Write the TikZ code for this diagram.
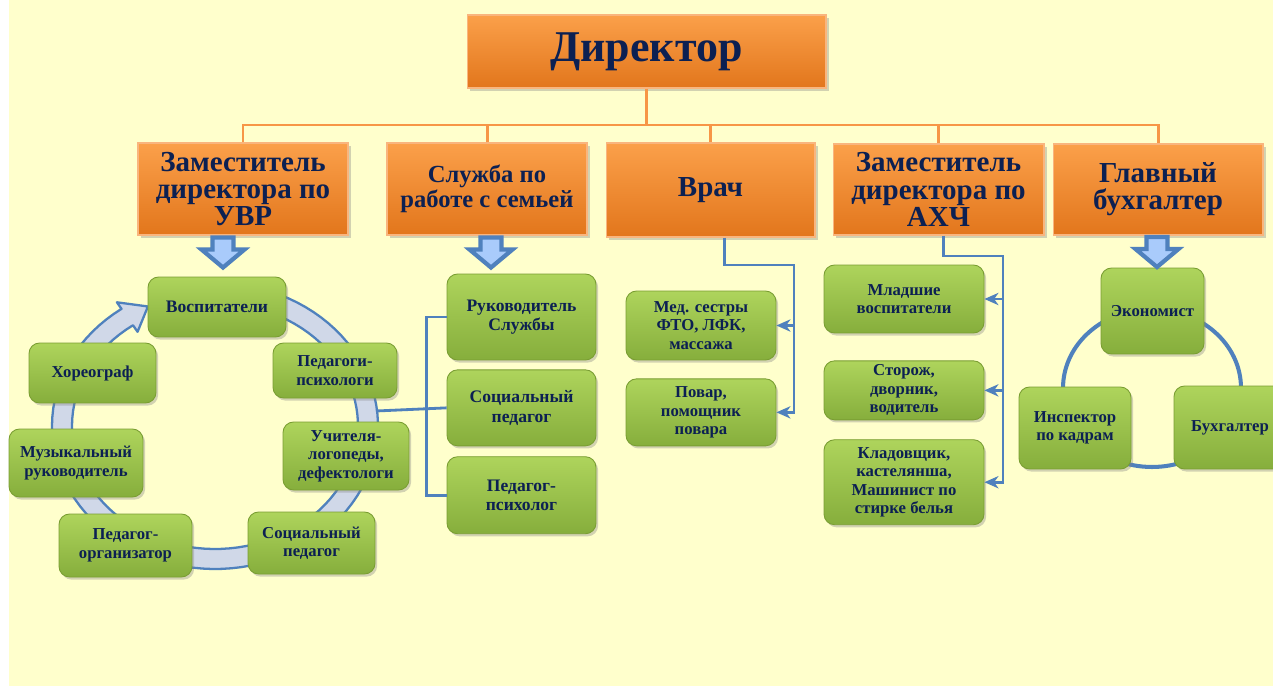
\documentclass[tikz,border=0pt]{standalone}
\usepackage{fontspec}
\setmainfont{Liberation Serif}
\usepackage{tikz}
\usetikzlibrary{arrows.meta, positioning, shadows, calc}
\definecolor{bgyel}{HTML}{FFFFCC}
\definecolor{ortop}{HTML}{FBA04A}
\definecolor{orbot}{HTML}{E2761C}
\definecolor{orline}{HTML}{F79646}
\definecolor{grtop}{HTML}{AED45C}
\definecolor{grbot}{HTML}{86AE3C}
\definecolor{grdraw}{HTML}{7A9E33}
\definecolor{txtblue}{HTML}{0C2052}
\definecolor{lnblue}{HTML}{4F81BD}
\definecolor{ringfill}{HTML}{D0D8E8}
\definecolor{arrfill}{HTML}{A9CBFB}
\tikzstyle{chief} = [draw=orline!70!white, line width=0.6pt, rectangle,
    top color=ortop, bottom color=orbot, text=txtblue, align=center, inner sep=1pt,
    drop shadow={shadow xshift=1.5pt, shadow yshift=-1.5pt, opacity=0.35},
    font=\fontsize{16.5}{15.5}\selectfont\bfseries]
\tikzstyle{staff} = [draw=grdraw, line width=0.5pt, rectangle, rounded corners=6pt,
    top color=grtop, bottom color=grbot, text=txtblue, align=center, inner sep=1pt,
    drop shadow={shadow xshift=1.2pt, shadow yshift=-1.5pt, opacity=0.35},
    font=\fontsize{9.5}{10.5}\selectfont\bfseries]
\tikzstyle{oline} = [draw=orline, line width=1.7pt]
\tikzstyle{bline} = [draw=lnblue, line width=1.6pt]
\tikzstyle{barrow} = [draw=lnblue, line width=2.4pt, fill=arrfill, line join=miter]
\tikzset{sz/.style 2 args={minimum width=#1cm, minimum height=#2cm}}
\newcommand{\bigdown}[1]{\draw[barrow] #1 ++(-10.5,0) -- ++(21,0) -- ++(0,12)
    -- ++(11,0) -- ++(-21.5,18) -- ++(-21.5,-18) -- ++(11,0) -- cycle;}

\begin{document}
\begin{tikzpicture}[x=0.02cm, y=-0.02cm, >={Stealth[length=8pt,width=7pt,inset=2.5pt]}]
    \useasboundingbox (0,0) rectangle (1273,686);
    \clip (0,0) rectangle (1273,686);
    \fill[bgyel] (9,0) rectangle (1273,686);

    % circles behind the staff boxes
    \draw[lnblue, line width=1.3pt, fill=ringfill, line join=round]
        plot[domain=-70:235, samples=90] ({215+163*cos(\x)}, {426+143*sin(\x)})
        -- ({215+171*cos(235)}, {426+151*sin(235)})
        -- ({215+153*cos(244)}, {426+133*sin(244)})
        -- ({215+135*cos(235)}, {426+115*sin(235)})
        -- plot[domain=235:-70, samples=90] ({215+143*cos(\x)}, {426+123*sin(\x)})
        -- cycle;
    \draw[lnblue, line width=2.3pt] (1152,388) ellipse [x radius=1.78cm, y radius=1.58cm];

    % top level
    \node [chief, sz={7.18}{1.46}, font=\fontsize{25}{28}\selectfont\bfseries] (dir) at (646.5,51.5) {Директор};
    \node [chief, sz={4.2}{1.84}] (uvr) at (243,189) {Заместитель\\директора по\\УВР};
    \node [chief, sz={4.0}{1.84}, font=\fontsize{14}{14}\selectfont\bfseries] (sem) at (487,189) {Служба по\\работе с семьей};
    \node [chief, sz={4.18}{1.88}] (vrach) at (710.5,190) {Врач};
    \node [chief, sz={4.22}{1.82}] (ahch) at (938.5,189.5) {Заместитель\\директора по\\АХЧ};
    \node [chief, sz={4.2}{1.82}] (gb) at (1158,189.5) {Главный\\бухгалтер};
    \coordinate (obus) at (646,125);
    \draw [oline] (dir.south) -- (dir.south |- obus);
    \draw [oline] (uvr.north) |- (obus) -| (gb.north);
    \foreach \n in {sem, vrach, ahch}
        \draw [oline] (\n.north) -- (\n.north |- obus);

    % UVR ring
    \node [staff, sz={2.76}{1.2}, font=\fontsize{10}{11}\selectfont\bfseries] (vosp) at (217,307) {Воспитатели};
    \node [staff, sz={2.54}{1.2}] (horeo) at (92.5,373) {Хореограф};
    \node [staff, sz={2.48}{1.1}] (pedpsy) at (335,370.5) {Педагоги-\\психологи};
    \node [staff, sz={2.52}{1.36}] (logo) at (346,456) {Учителя-\\логопеды,\\дефектологи};
    \node [staff, sz={2.68}{1.36}] (muz) at (76,463) {Музыкальный\\руководитель};
    \node [staff, sz={2.66}{1.26}] (org) at (125.5,545.5) {Педагог-\\организатор};
    \node [staff, sz={2.54}{1.24}] (socL) at (311.5,543) {Социальный\\педагог};
    \bigdown{($(uvr.south)+(-20,2)$)}

    % family service
    \node [staff, sz={2.98}{1.72}, font=\fontsize{10}{11}\selectfont\bfseries] (ruk) at (521.5,317) {Руководитель\\Службы};
    \node [staff, sz={2.98}{1.52}, font=\fontsize{10}{11}\selectfont\bfseries, below=0.18cm of ruk] (socS) {Социальный\\педагог};
    \node [staff, sz={2.98}{1.54}, font=\fontsize{10}{11}\selectfont\bfseries, below=0.2cm of socS] (pedS) {Педагог-\\психолог};
    \bigdown{($(sem.south)+(4,2)$)}
    \coordinate (ringE) at (376,411);
    \draw [bline] (ringE) -- (socS.west);
    \draw [bline] (ruk.west) -- ++(-20,0) |- (pedS.west);

    % doctor
    \node [staff, sz={3.0}{1.38}] (med) at (701,325.5) {Мед. сестры\\ФТО, ЛФК,\\массажа};
    \node [staff, sz={3.0}{1.34}, below=0.36cm of med] (povar) {Повар,\\помощник\\повара};
    \coordinate (vbus) at (794,265);
    \draw [bline, ->] ($(vrach.south)+(14,0)$) |- (vbus) |- (povar.east);
    \draw [bline, ->] (vbus |- med.east) -- (med.east);

    % AHCh
    \node [staff, sz={3.2}{1.36}] (mlad) at (904,299) {Младшие\\воспитатели};
    \node [staff, sz={3.2}{1.18}, below=0.54cm of mlad] (stor) {Сторож,\\дворник,\\водитель};
    \node [staff, sz={3.2}{1.7}, below=0.38cm of stor] (klad) {Кладовщик,\\кастелянша,\\Машинист по\\стирке белья};
    \coordinate (abus) at (1003,256);
    \draw [bline, ->] ($(ahch.south)+(5,0)$) |- (abus) |- (klad.east);
    \foreach \n in {mlad, stor}
        \draw [bline, ->] (abus |- \n.east) -- (\n.east);

    % accounting
    \node [staff, sz={2.06}{1.72}] (econ) at (1152.5,311) {Экономист};
    \node [staff, sz={2.24}{1.64}] (insp) at (1075,428) {Инспектор\\по кадрам};
    \node [staff, sz={2.24}{1.66}] (buh) at (1230,427.5) {Бухгалтер};
    \bigdown{($(gb.south)+(-1,1.5)$)}
\end{tikzpicture}
\end{document}
